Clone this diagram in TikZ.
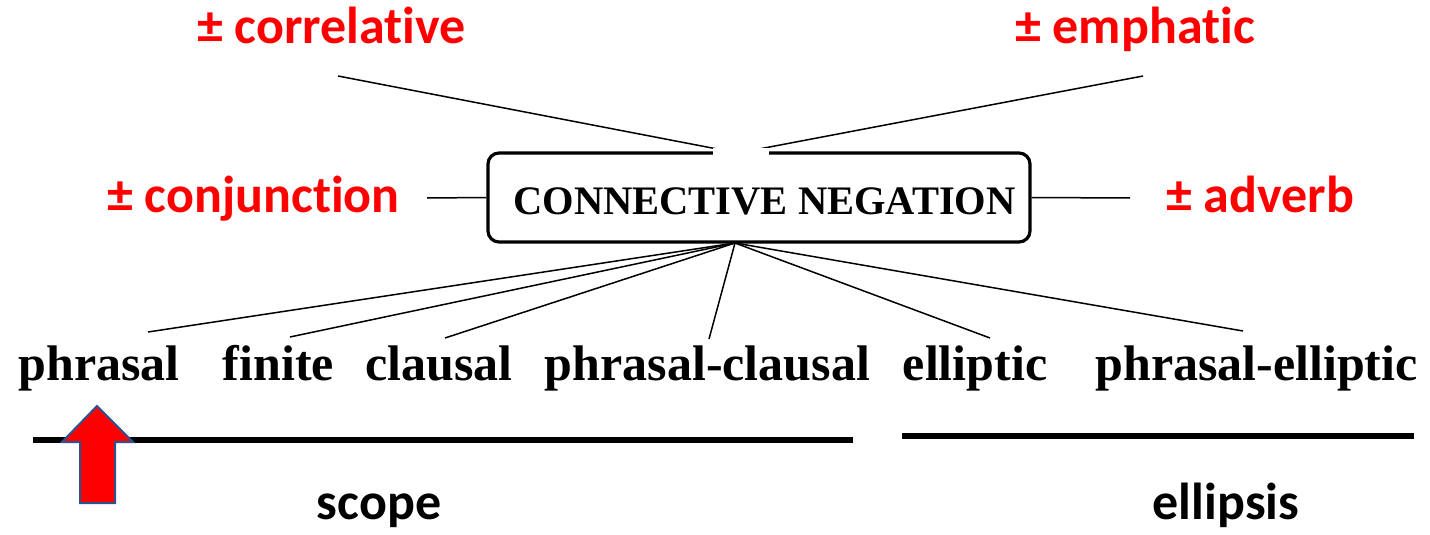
\documentclass[tikz,border=0pt]{standalone}
\usepackage{fontspec}
\setmainfont{Liberation Serif}
\newfontfamily\labelfont[Ligatures=NoCommon,RawFeature={-liga;-clig;-dlig}]{Carlito}
\definecolor{featurered}{RGB}{255,0,0}
\definecolor{arrowedge}{RGB}{47,82,143}
% keep "t" and "i" as separate glyphs
\newcommand{\tisplit}{t\kern0pt i}

\begin{document}
\begin{tikzpicture}[x=1pt,y=-1pt,
  word/.style={font=\fontsize{50}{50}\selectfont\bfseries, inner sep=0pt, anchor=base},
  feature/.style={font=\labelfont\fontsize{52}{52}\selectfont\bfseries, text=featurered, inner sep=0pt, anchor=base},
  rangelabel/.style={font=\labelfont\fontsize{52}{52}\selectfont\bfseries, inner sep=0pt, anchor=base},
  frame/.style={draw, line width=3.2pt, rounded corners=11pt, minimum width=542pt, minimum height=89pt, inner sep=0pt},
  link/.style={line width=1.5pt},
  bar/.style={line width=6pt}]
\useasboundingbox (0,0) rectangle (1430,535);

% central box and its title
\node[frame] (cn) at (759,197.5) {};
\node[font=\fontsize{40.5}{40.5}\selectfont\bfseries, inner sep=0pt] (cntitle) at (764.5,201) {CONNECTIVE NEGATION};

% feature labels
\node[feature] (corr) at (331.5,44) {± correla\tisplit ve};
\node[feature] (emph) at (1135,44) {± empha\tisplit c};
\node[feature] (conj) at (253.5,212) {± conjunc\tisplit on};
\node[feature] (adv)  at (1260,212) {± adverb};

% subtypes
\node[word] (phr)   at (99,380)    {phrasal};
\node[word] (fin)   at (278.5,380) {finite};
\node[word] (cla)   at (439,380)   {clausal};
\node[word] (phcl)  at (707.5,380) {phrasal-clausal};
\node[word] (ell)   at (975,380)   {elliptic};
\node[word] (phell) at (1256.5,380){phrasal-elliptic};

% connector end points
\coordinate (top)  at (738,153);
\coordinate (hub)  at (735,243);
\coordinate (corrend) at (338,76);
\coordinate (emphend) at (1143,76);
\coordinate (conjend) at (427,198);
\coordinate (advend)  at (1130,198);
\coordinate (phrend)   at (148,332);
\coordinate (finend)   at (290,337);
\coordinate (claend)   at (445,338);
\coordinate (phclend)  at (709,339);
\coordinate (ellend)   at (990,338);
\coordinate (phellend) at (1243,331);

% connectors
\draw[link] (corrend) -- (top);
\draw[link] (emphend) -- (top);
\draw[link] (conjend) -- (cn.west);
\draw[link] (advend) -- (cn.east);
\foreach \e in {phrend,finend,claend,phclend,ellend,phellend}
  \draw[link] (\e) -- (hub);

% gap in the top border where the upper connectors meet
\fill[white] (713,147.5) rectangle (769,155.5);

% range bars
\coordinate (scopeL) at (33,440);
\coordinate (scopeR) at (853,440);
\coordinate (ellL) at (902,436);
\coordinate (ellR) at (1414,436);
\draw[bar] (scopeL) -- (scopeR);
\draw[bar] (ellL) -- (ellR);

\node[rangelabel] (scope) at (379,519) {scope};
\node[rangelabel] (ellipsis) at (1226,519) {ellipsis};

% block arrow under "phrasal"
\draw[fill=red, draw=arrowedge, line width=2pt, line join=miter]
  (97,406) -- (133,442) -- (115,442) -- (115,503) -- (80,503) -- (80,442) -- (62,442) -- cycle;
\end{tikzpicture}
\end{document}
